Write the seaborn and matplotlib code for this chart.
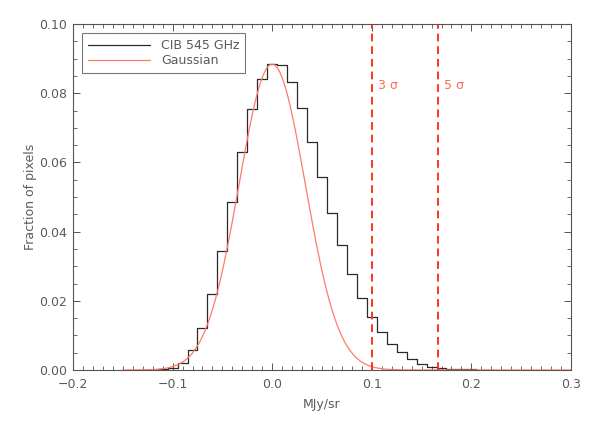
import numpy as np
import pandas as pd
import matplotlib
matplotlib.use("Agg")
import matplotlib.pyplot as plt
import seaborn as sns
from matplotlib.ticker import MultipleLocator
from matplotlib.lines import Line2D

# Histogram bins (centre in MJy/sr) and fraction of pixels
bin_centres = [-0.13, -0.12, -0.11, -0.10, -0.09, -0.08, -0.07, -0.06, -0.05, -0.04,
               -0.03, -0.02, -0.01, 0.00, 0.01, 0.02, 0.03, 0.04, 0.05, 0.06,
               0.07, 0.08, 0.09, 0.10, 0.11, 0.12, 0.13, 0.14, 0.15, 0.16,
               0.17, 0.18, 0.19, 0.20, 0.21, 0.22]
fractions = [0.00005, 0.0001, 0.0002, 0.0005, 0.0019, 0.0057, 0.0122, 0.0219, 0.0343, 0.0486,
             0.0629, 0.0753, 0.0840, 0.0884, 0.0881, 0.0833, 0.0756, 0.0660, 0.0559, 0.0455,
             0.0360, 0.0277, 0.0209, 0.0152, 0.0109, 0.0076, 0.0051, 0.0031, 0.0017, 0.0009,
             0.0006, 0.0004, 0.0003, 0.0002, 0.0001, 0.00005]
bin_width = 0.01

# Gaussian fit parameters
gauss_peak = 0.0884
gauss_mean = 0.0
gauss_sigma = 0.0333
gauss_range = (-0.15, 0.30)

# Threshold lines
sigma_levels = [3, 5]
sigma_labels = ["3 σ", "5 σ"]

sns.set_style("ticks")
plt.rcParams["font.family"] = ["DejaVu Sans"]
txt = "#5a5a5a"
plt.rcParams.update({
    "xtick.direction": "in", "ytick.direction": "in",
    "xtick.top": True, "ytick.right": True,
    "xtick.color": "#555555", "ytick.color": "#555555",
    "xtick.labelcolor": txt, "ytick.labelcolor": txt,
    "axes.edgecolor": "#555555", "axes.linewidth": 0.8,
    "xtick.major.size": 5, "ytick.major.size": 5,
    "xtick.minor.size": 2.8, "ytick.minor.size": 2.8,
    "xtick.major.width": 0.7, "ytick.major.width": 0.7,
    "xtick.minor.width": 0.6, "ytick.minor.width": 0.6,
    "xtick.major.pad": 6, "ytick.major.pad": 4,
})

fig = plt.figure(figsize=(5.9, 4.21), dpi=100)
ax = fig.add_axes([0.1237, 0.1211, 0.8441, 0.8219])

# histogram as a step outline
hist = pd.DataFrame({"centre": bin_centres, "fraction": fractions})
lo = min(bin_centres) - bin_width / 2
hi = max(bin_centres) + bin_width / 2
sns.histplot(data=hist, x="centre", weights="fraction", binwidth=bin_width, binrange=(lo, hi),
             element="step", fill=False, color="#2a2a2a", linewidth=0.9, ax=ax)

# gaussian fit
xg = np.linspace(gauss_range[0], gauss_range[1], 500)
yg = gauss_peak * np.exp(-(xg - gauss_mean) ** 2 / (2 * gauss_sigma ** 2))
sns.lineplot(x=xg, y=yg, color="#ff7a68", linewidth=0.9, ax=ax)

# 3 and 5 sigma thresholds
for lvl, lab in zip(sigma_levels, sigma_labels):
    xv = gauss_mean + lvl * gauss_sigma
    ax.axvline(xv, color="#ff3322", linewidth=1.4, linestyle=(0, (4, 2.5)))
    ax.text(xv + 0.006, 0.0822, lab, color="#ff6a55", fontsize=9, va="center", ha="left")

ax.set_xlim(-0.2, 0.3)
ax.set_ylim(0, 0.1)
ax.xaxis.set_major_locator(MultipleLocator(0.1))
ax.xaxis.set_minor_locator(MultipleLocator(0.01))
ax.yaxis.set_major_locator(MultipleLocator(0.02))
ax.yaxis.set_minor_locator(MultipleLocator(0.005))
ax.xaxis.set_major_formatter(plt.FuncFormatter(lambda v, p: f"{v:.1f}".replace("-", "−")))
ax.yaxis.set_major_formatter(plt.FuncFormatter(lambda v, p: f"{v:.2f}"))
ax.tick_params(labelsize=9)

ax.set_xlabel("MJy/sr", fontsize=9, color=txt, labelpad=5)
ax.set_ylabel("Fraction of pixels", fontsize=9, color=txt, labelpad=2)

handles = [Line2D([], [], color="#2a2a2a", linewidth=0.9),
           Line2D([], [], color="#ff7a68", linewidth=0.9)]
leg = ax.legend(handles, ["CIB 545 GHz", "Gaussian"], loc="upper left",
                bbox_to_anchor=(0.018, 0.973), fontsize=9, frameon=True, fancybox=False,
                handlelength=5.0, handletextpad=0.9, borderpad=0.45, labelspacing=0.2,
                borderaxespad=0)
leg.get_frame().set_edgecolor("#555555")
leg.get_frame().set_linewidth(0.8)
for t in leg.get_texts():
    t.set_color(txt)

fig.savefig("out.png", dpi=100)
